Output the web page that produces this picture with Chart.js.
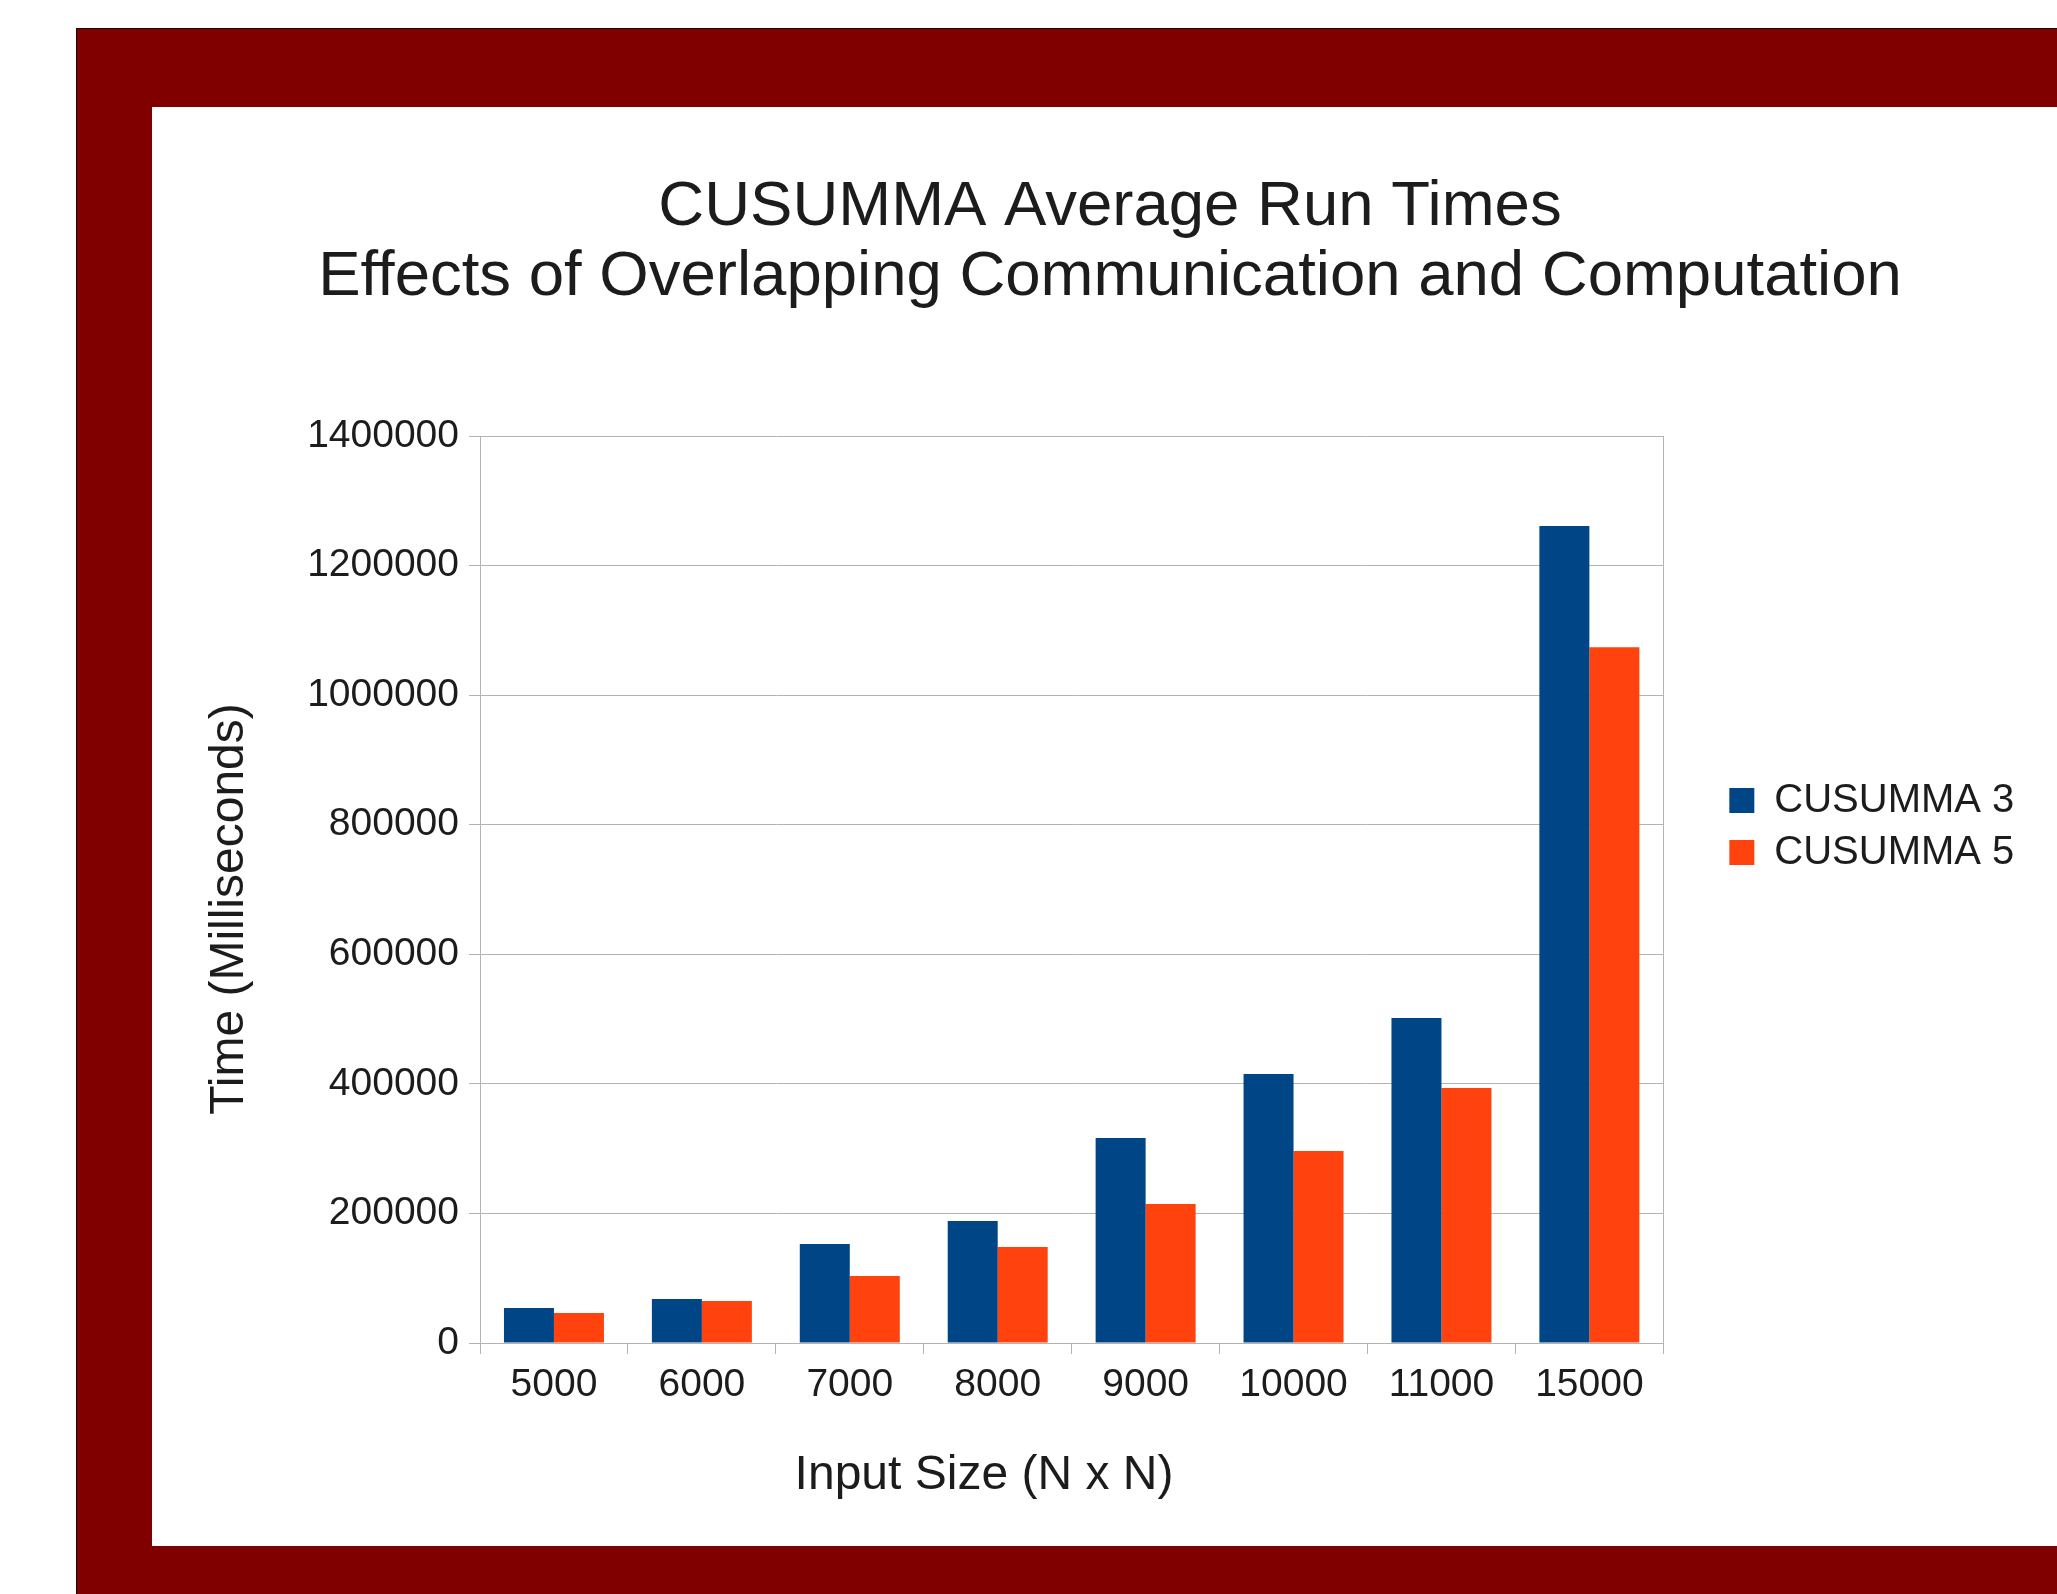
<!DOCTYPE html>
<html>
<head>
<meta charset="utf-8">
<title>CUSUMMA Average Run Times</title>
<script src="https://cdn.jsdelivr.net/npm/chart.js@4.4.0/dist/chart.umd.min.js"></script>
<style>
  html, body { margin: 0; padding: 0; background: #fff; }
  body { width: 2057px; height: 1594px; position: relative; overflow: hidden; }
  #frame {
    position: absolute; left: 76px; top: 28px; right: 0; bottom: 0;
    background: #800000;
    border-top: 1px solid #111; border-left: 1px solid #111;
  }
  #panel {
    position: absolute; left: 152px; top: 107px; width: 1905px; height: 1439px;
    background: #fff;
  }
  #chart { display: block; }
</style>
</head>
<body>
<div id="frame"></div>
<div id="panel"><canvas id="chart" width="1905" height="1439"></canvas></div>
<script>
const categories = ['5000', '6000', '7000', '8000', '9000', '10000', '11000', '15000'];
const cusumma3 = [54000, 67900, 152800, 188300, 316400, 415200, 501600, 1261000];
const cusumma5 = [46300, 64800, 103400, 148200, 214500, 296300, 393600, 1074000];
const yTicks = [0, 200000, 400000, 600000, 800000, 1000000, 1200000, 1400000];

const titleLines = ['CUSUMMA Average Run Times', 'Effects of Overlapping Communication and Computation'];
const xTitle = 'Input Size (N x N)';
const yTitle = 'Time (Milliseconds)';

const FONT = '"Liberation Sans", Arial, sans-serif';
const textColor = '#1c1c1c';
const gridColor = '#b3b3b3';

// axis titles sit off-centre, so they are painted by hand
const axisTitles = {
    id: 'axisTitles',
    afterDraw(chart) {
        const { ctx, chartArea } = chart;
        ctx.save();
        ctx.fillStyle = textColor;
        ctx.font = '48px ' + FONT;
        ctx.textAlign = 'center';
        ctx.textBaseline = 'middle';
        ctx.fillText(xTitle, chartArea.left + 504, chartArea.bottom + 133);
        ctx.translate(chartArea.left - 250, chartArea.top + 473);
        ctx.rotate(-Math.PI / 2);
        ctx.fillText(yTitle, 0, 0);
        ctx.restore();
    }
};

const ctx = document.getElementById('chart');
new Chart(ctx, {
    type: 'bar',
    data: {
        labels: categories,
        datasets: [{
            label: 'CUSUMMA 3',
            data: cusumma3,
            backgroundColor: '#004586',
            borderWidth: 0
        }, {
            label: 'CUSUMMA 5',
            data: cusumma5,
            backgroundColor: '#ff420e',
            borderWidth: 0
        }]
    },
    options: {
        responsive: false,
        animation: false,
        categoryPercentage: 0.676,
        barPercentage: 1,
        layout: {
            padding: { left: 47, right: 36, top: 0, bottom: 0 }
        },
        scales: {
            x: {
                grid: {
                    offset: true,
                    drawOnChartArea: false,
                    tickLength: 11,
                    color: gridColor
                },
                border: { color: gridColor },
                ticks: {
                    color: textColor,
                    font: { family: FONT, size: 39 },
                    padding: 8,
                    maxRotation: 0
                },
                afterFit(scale) { scale.height = 203; }
            },
            y: {
                min: 0,
                max: 1400000,
                afterBuildTicks(scale) {
                    scale.ticks = yTicks.map(v => ({ value: v }));
                },
                grid: {
                    color: gridColor,
                    tickLength: 11
                },
                border: { color: gridColor },
                ticks: {
                    color: textColor,
                    font: { family: FONT, size: 39 },
                    padding: 10,
                    callback: value => String(value)
                },
                afterFit(scale) { scale.width = 281; }
            },
            // right-hand frame of the plot area
            edge: {
                type: 'linear',
                position: 'right',
                grid: { drawOnChartArea: false, drawTicks: false },
                border: { color: gridColor },
                ticks: { display: false },
                afterFit(scale) { scale.width = 54; }
            }
        },
        plugins: {
            title: {
                display: true,
                text: titleLines,
                color: textColor,
                font: { family: FONT, size: 63.5, weight: 'normal', lineHeight: '70px' },
                padding: { top: 65, bottom: 124 }
            },
            legend: {
                position: 'right',
                labels: {
                    boxWidth: 25,
                    boxHeight: 25,
                    padding: 12,
                    color: textColor,
                    font: { family: FONT, size: 40 }
                }
            },
            tooltip: { enabled: false }
        }
    },
    plugins: [axisTitles]
});
</script>
</body>
</html>
